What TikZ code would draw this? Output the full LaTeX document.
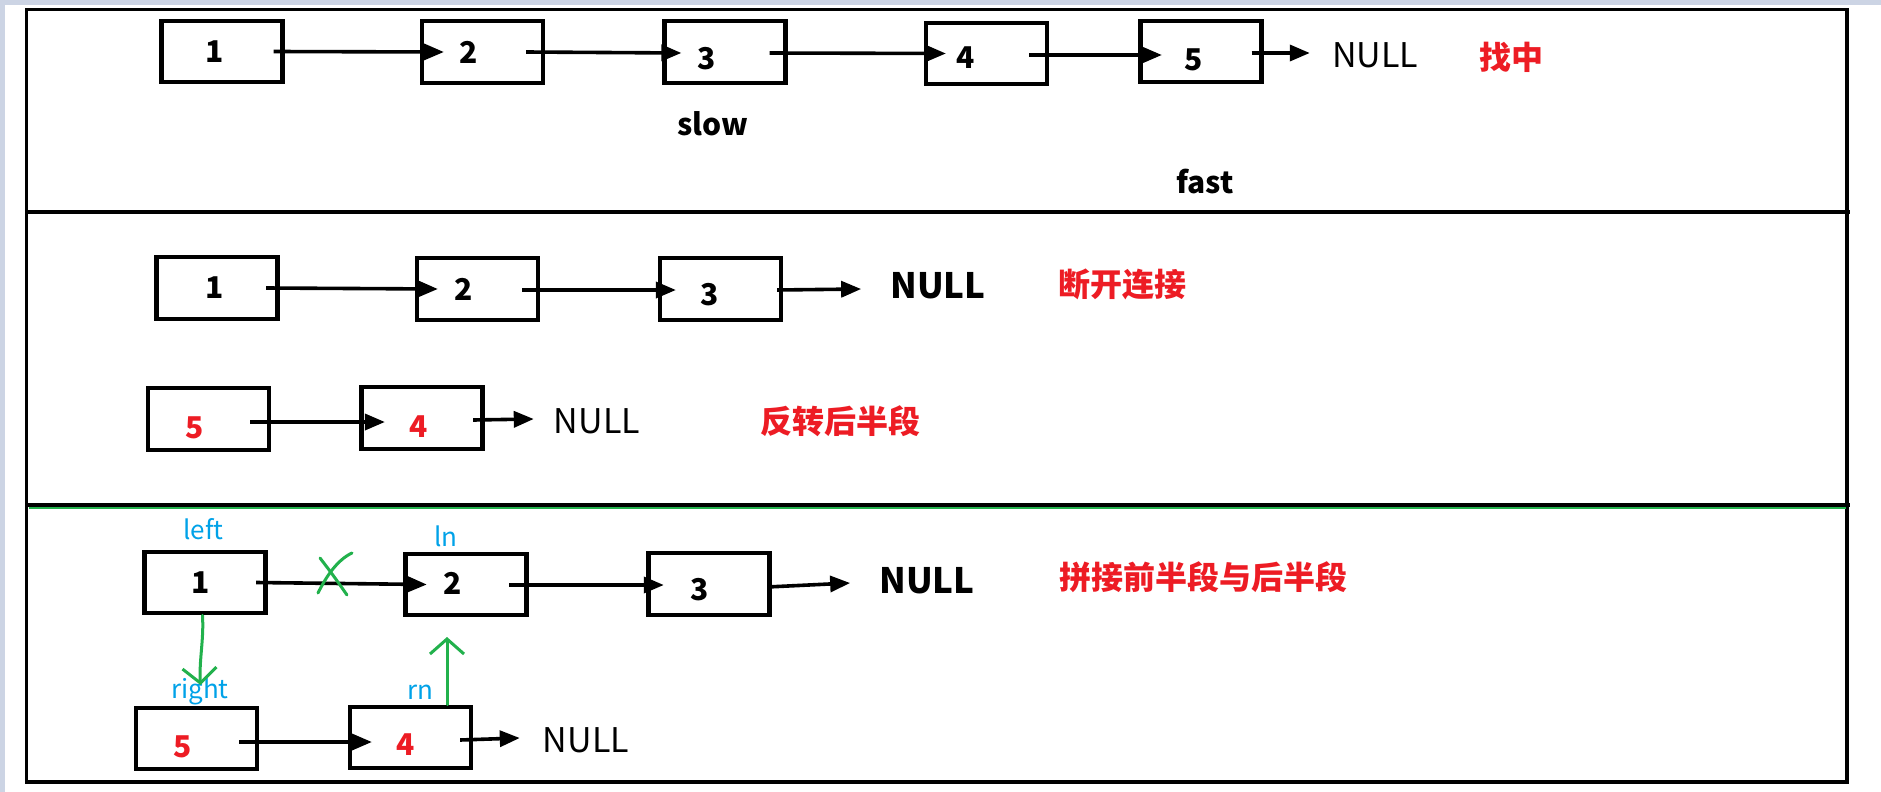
\documentclass[tikz,border=0pt]{standalone}
\usepackage{fontspec}
\setmainfont{Noto Sans CJK SC}
\usetikzlibrary{arrows.meta}

\definecolor{hlred}{RGB}{237,28,36}
\definecolor{ptrblue}{RGB}{0,162,232}
\definecolor{penGreen}{RGB}{34,177,76}
\definecolor{winbg}{RGB}{204,212,228}

\begin{document}
\begin{tikzpicture}[x=1pt, y=-1pt,
        nodebox/.style={draw, line width=4.2pt, minimum width=121pt,
                        minimum height=61.5pt, inner sep=0pt},
        numtxt/.style={font=\fontsize{30}{34}\selectfont\bfseries, inner sep=0pt},
        rednum/.style={numtxt, text=hlred},
        nulltxt/.style={font=\fontsize{34}{38}\selectfont, inner sep=0pt},
        nullbold/.style={font=\fontsize{35}{40}\selectfont\bfseries, inner sep=0pt},
        steptxt/.style={font=\fontsize{32}{36}\selectfont\bfseries, text=hlred, inner sep=0pt},
        ptrtxt/.style={font=\fontsize{26}{30}\selectfont, text=ptrblue, inner sep=0pt},
        vartxt/.style={font=\fontsize{30}{34}\selectfont\bfseries, inner sep=0pt},
        link/.style={-{Triangle[length=20pt, width=16pt]}, line width=3.6pt},
        greenpen/.style={draw=penGreen, line width=3pt, line cap=round, line join=round},
        greenptr/.style={greenpen, -{Straight Barb[length=15pt, width=34pt]}}
    ]
        \useasboundingbox (0,0) rectangle (1881,792);
        \fill[winbg] (0,0) rectangle (1881,792);
        \fill[white] (5,5) rectangle (1881,792);

        % frame and the three panels
        \draw[line width=3.5pt] (26.5,9.5) rectangle (1847,782);
        \draw[line width=4pt] (26.5,212) -- (1850,212);
        \draw[line width=4pt] (26.5,505) -- (1850,505);
        \draw[penGreen, line width=1.2pt] (28.5,508) -- (1846,508);

        % panel 1: find the middle
        \node[nodebox, label={[numtxt, xshift=-7pt]center:1}] (s1) at (222,51.5) {};
        \node[nodebox, label={[numtxt, xshift=-14pt]center:2}] (s2) at (482.5,52) {};
        \node[nodebox, label={[numtxt, xshift=-18pt, yshift=-7pt]center:3}] (s3) at (725,52) {};
        \node[nodebox, label={[numtxt, xshift=-21pt, yshift=-4pt]center:4}] (s4) at (986.5,53.5) {};
        \node[nodebox, label={[numtxt, xshift=-7pt, yshift=-8.5pt]center:5}] (s5) at (1201,51.5) {};
        \node[nulltxt] (snull) at (1375,55) {NULL};
        \node[steptxt] (sfind) at (1511,57) {找中};
        \node[vartxt] (slow) at (713,124) {slow};
        \node[vartxt] (fast) at (1205,182) {fast};

        \draw[link] ([xshift=-11pt]s1.east) -- ([xshift=24pt]s2.west);
        \draw[link] ([xshift=-19pt]s2.east) -- ([xshift=19pt, yshift=-1pt]s3.west);
        \draw[link] ([xshift=-18pt, yshift=-1pt]s3.east) -- ([xshift=22pt]s4.west);
        \draw[link] ([xshift=-20pt, yshift=-1.5pt]s4.east) -- ([xshift=23.5pt, yshift=-3.5pt]s5.west);
        \draw[link] ([xshift=-12pt, yshift=-1.5pt]s5.east) -- ([xshift=-22pt, yshift=2pt]snull.west);

        % panel 2: cut and reverse
        \node[nodebox, label={[numtxt, xshift=-2pt]center:1}] (t1) at (217,288) {};
        \node[nodebox, label={[numtxt, xshift=-13.5pt]center:2}] (t2) at (477.5,289) {};
        \node[nodebox, label={[numtxt, xshift=-10.5pt, yshift=-6pt]center:3}] (t3) at (720.5,289) {};
        \node[nullbold] (tnull) at (938,286) {NULL};
        \node[steptxt] (tcut) at (1122,284) {断开连接};
        \node[nodebox, label={[rednum, xshift=-13.5pt, yshift=-9pt]center:5}] (t5) at (208.5,419) {};
        \node[nodebox, label={[rednum, xshift=-3pt, yshift=-9pt]center:4}] (t4) at (422,418) {};
        \node[nulltxt] (tnull2) at (597,421) {NULL};
        \node[steptxt] (trev) at (840,421) {反转后半段};

        \draw[link] ([xshift=-13.4pt]t1.east) -- ([xshift=23pt]t2.west);
        \draw[link] ([xshift=-18pt, yshift=-1pt]t2.east) -- ([xshift=18pt, yshift=-1pt]t3.west);
        \draw[link] ([xshift=-6pt, yshift=-1pt]t3.east) -- ([xshift=-29pt, yshift=-3pt]tnull.west);
        \draw[link] ([xshift=-21pt, yshift=-3pt]t5.east) -- ([xshift=25.5pt, yshift=-4pt]t4.west);
        \draw[link] ([xshift=-11.4pt, yshift=-2pt]t4.east) -- ([xshift=-20pt, yshift=2pt]tnull2.west);

        % panel 3: join the halves
        \node[nodebox, label={[numtxt, xshift=-4pt]center:1}] (u1) at (205,582.5) {};
        \node[nodebox, label={[numtxt, xshift=-13pt, yshift=1.5pt]center:2}] (u2) at (466,584.5) {};
        \node[nodebox, label={[numtxt, xshift=-9pt, yshift=-6pt]center:3}] (u3) at (709,584) {};
        \node[nullbold] (unull) at (927,581) {NULL};
        \node[steptxt] (ujoin) at (1203,577) {拼接前半段与后半段};
        \node[nodebox, label={[rednum, xshift=-13.5pt, yshift=-8.5pt]center:5}] (u5) at (196.5,738.5) {};
        \node[nodebox, label={[rednum, xshift=-4.5pt, yshift=-7.5pt]center:4}] (u4) at (410.5,737.5) {};
        \node[nulltxt] (unull2) at (586,740) {NULL};
        \node[ptrtxt] (pleft) at (203.5,529.5) {left};
        \node[ptrtxt] (pln) at (446,536) {ln};
        \node[ptrtxt] (pright) at (200,691) {right};
        \node[ptrtxt] (prn) at (420,692) {rn};

        \draw[link] ([xshift=-11.4pt]u1.east) -- ([xshift=23.4pt]u2.west);
        \draw[link] ([xshift=-19.4pt, yshift=-0.5pt]u2.east) -- ([xshift=17.4pt, yshift=-1pt]u3.west);
        \draw[link] ([xshift=-4.4pt, yshift=-3pt]u3.east) -- ([xshift=-29pt, yshift=-2pt]unull.west);
        \draw[link] ([xshift=-20pt, yshift=-3.5pt]u5.east) -- ([xshift=24pt, yshift=-4.5pt]u4.west);
        \draw[link] ([xshift=-13pt, yshift=-2.5pt]u4.east) -- ([xshift=-23pt, yshift=2pt]unull2.west);

        % green pen marks
        \coordinate (rtip) at (200.5,685);
        \coordinate (lntip) at (447,637);
        \draw[greenpen] (320,558) .. controls (333,575) .. (347,595);
        \draw[greenpen] (352,553) .. controls (337,560) and (326,577) .. (318,593);
        \draw[greenptr] ([xshift=-2.5pt]u1.south) .. controls (204,640) and (199,660) .. (rtip);
        \draw[greenptr] ([xshift=36.5pt]u4.north) -- (lntip);
    \end{tikzpicture}
\end{document}
